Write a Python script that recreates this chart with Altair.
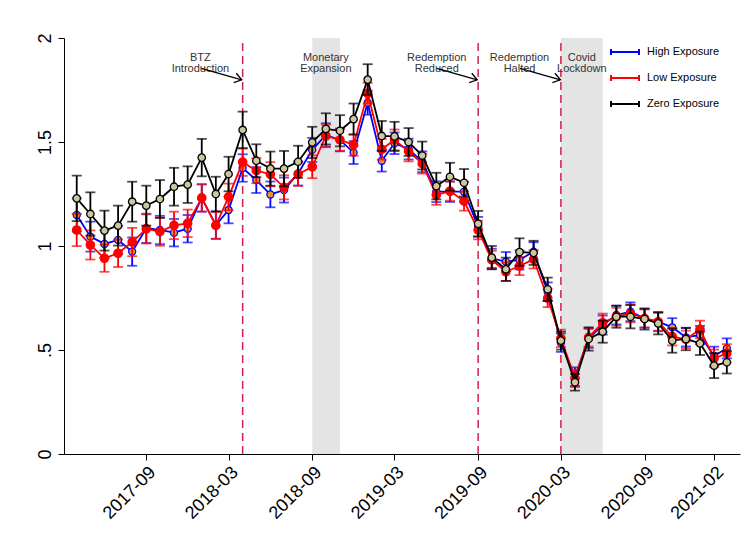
import altair as alt
import pandas as pd

# Monthly estimates, 2017-04 .. 2021-03
months = pd.date_range("2017-04-01", "2021-03-01", freq="MS").strftime("%Y-%m-%d").tolist()

high = [1.149, 1.045, 1.010, 1.029, 0.973, 1.085, 1.077, 1.064, 1.083, 1.231, 1.100, 1.173,
        1.375, 1.317, 1.248, 1.269, 1.349, 1.462, 1.534, 1.510, 1.449, 1.689, 1.410, 1.494,
        1.466, 1.405, 1.261, 1.261, 1.261, 1.093, 0.941, 0.925, 0.933, 0.973, 0.780, 0.535,
        0.372, 0.556, 0.620, 0.668, 0.684, 0.652, 0.636, 0.609, 0.561, 0.572, 0.471, 0.508]
low = [1.077, 1.005, 0.941, 0.965, 1.019, 1.082, 1.069, 1.099, 1.109, 1.231, 1.099, 1.236,
       1.403, 1.362, 1.345, 1.282, 1.345, 1.381, 1.529, 1.510, 1.486, 1.734, 1.465, 1.510,
       1.455, 1.396, 1.245, 1.264, 1.216, 1.077, 0.933, 0.876, 0.904, 0.936, 0.749, 0.556,
       0.364, 0.561, 0.631, 0.660, 0.676, 0.652, 0.636, 0.564, 0.551, 0.599, 0.460, 0.484]
zero = [1.229, 1.154, 1.074, 1.098, 1.213, 1.194, 1.226, 1.285, 1.295, 1.425, 1.250, 1.346,
        1.558, 1.410, 1.372, 1.372, 1.405, 1.498, 1.563, 1.554, 1.610, 1.800, 1.529, 1.527,
        1.500, 1.435, 1.288, 1.333, 1.304, 1.107, 0.944, 0.888, 0.971, 0.967, 0.792, 0.545,
        0.345, 0.553, 0.588, 0.660, 0.660, 0.649, 0.628, 0.545, 0.553, 0.532, 0.425, 0.441]

# Half-widths of the confidence intervals
high_ci = [.080, .072, .066, .067, .068, .070, .068, .066, .066, .066, .065, .064,
           .066, .062, .062, .060, .058, .058, .056, .055, .055, .058, .052, .052,
           .050, .050, .050, .049, .048, .047, .046, .046, .046, .045, .045, .044,
           .044, .046, .046, .045, .045, .045, .046, .044, .044, .044, .045, .048]
low_ci = [.078, .070, .065, .066, .068, .070, .068, .066, .066, .065, .065, .064,
          .066, .060, .058, .058, .056, .055, .054, .052, .052, .050, .050, .050,
          .048, .048, .047, .046, .046, .045, .044, .044, .044, .044, .043, .042,
          .042, .044, .044, .043, .043, .043, .043, .042, .042, .042, .042, .044]
zero_ci = [.109, .104, .096, .096, .096, .096, .091, .091, .088, .090, .083, .083,
           .088, .079, .082, .085, .077, .075, .075, .075, .075, .074, .072, .070,
           .067, .067, .064, .067, .066, .062, .056, .056, .066, .058, .056, .043,
           .040, .056, .053, .053, .056, .051, .053, .058, .054, .056, .060, .054]

series_names = ["High Exposure", "Low Exposure", "Zero Exposure"]
line_colors = ["#0000ff", "#ff0000", "#000000"]
marker_fills = ["#e8952f", "#ff0000", "#cdc79e"]
marker_sizes = [50, 70, 55]

# Policy events (dashed lines) and shaded periods
event_dates = ["2018-04-01", "2019-09-01", "2020-03-01"]
shade_start = ["2018-09-01", "2020-03-01"]
shade_end = ["2018-11-01", "2020-06-01"]

# Annotation text and arrows
note_text = ["BTZ\nIntroduction", "Monetary\nExpansion", "Redemption\nReduced",
             "Redemption\nHalted", "Covid\nLockdown"]
note_dates = ["2017-12-29", "2018-10-01", "2019-06-02", "2019-12-01", "2020-04-16"]
note_y = 1.902
arrow_from = ["2017-12-31", "2019-06-02", "2019-12-02"]
arrow_to = ["2018-03-30", "2019-08-30", "2020-02-29"]
arrow_y_from = 1.854
arrow_y_to = 1.799

x_ticks = ["2017-09-01", "2018-03-01", "2018-09-01", "2019-03-01",
           "2019-09-01", "2020-03-01", "2020-09-01", "2021-02-01"]
x_range = ["2017-03-04", "2021-03-30"]
y_ticks = [0, 0.5, 1, 1.5, 2]

FONT = "Liberation Sans"


def ms(d):
    return int(pd.Timestamp(d).value // 10**6)


rows = []
for name, vals, cis in zip(series_names, [high, low, zero], [high_ci, low_ci, zero_ci]):
    for m, v, c in zip(months, vals, cis):
        rows.append({"month": m, "series": name, "value": v,
                     "lo": round(v - c, 4), "hi": round(v + c, 4)})
df = pd.DataFrame(rows)

shade_df = pd.DataFrame({"start": shade_start, "end": shade_end, "ylo": 0, "yhi": 2})
event_df = pd.DataFrame({"date": event_dates, "ylo": 0, "yhi": 2})
note_df = pd.DataFrame({"date": note_dates, "label": note_text, "y": note_y})
arrow_df = pd.DataFrame({"x1": arrow_from, "x2": arrow_to,
                         "y1": arrow_y_from, "y2": arrow_y_to})

x_scale = alt.Scale(type="utc", domain=[ms(d) for d in x_range])
y_scale = alt.Scale(domain=[0, 2], nice=False, zero=False)

x_axis = alt.Axis(values=[ms(d) for d in x_ticks], format="%Y-%m", labelAngle=315,
                  labelFontSize=18, labelFont=FONT, labelColor="black", labelPadding=3,
                  tickSize=6, tickColor="black", domainColor="black", grid=False,
                  title=None)
y_axis = alt.Axis(values=y_ticks, labelExpr="replace(toString(datum.value), '0.', '.')",
                  labelAngle=270, labelAlign="center", labelBaseline="alphabetic",
                  labelFontSize=18, labelFont=FONT, labelColor="black", labelPadding=8,
                  tickSize=6, tickColor="black", domainColor="black", grid=False,
                  title=None)


def X(field):
    return alt.X(f"{field}:T", scale=x_scale, axis=x_axis)


def Y(field):
    return alt.Y(f"{field}:Q", scale=y_scale, axis=y_axis)


color_scale = alt.Scale(domain=series_names, range=line_colors)
legend = alt.Legend(title=None, orient="none", legendX=550, legendY=3, padding=0,
                    symbolType="M-1.4,-0.3L-1.4,0.3M-1.4,0L1.4,0M1.4,-0.3L1.4,0.3",
                    symbolSize=400, symbolStrokeWidth=2, symbolFillColor="transparent",
                    labelFontSize=11, labelFont=FONT, labelColor="black",
                    labelOffset=11, rowPadding=8)

shades = alt.Chart(shade_df).mark_rect(color="#e4e4e4").encode(
    x=X("start"), x2="end", y=Y("ylo"), y2="yhi")

events = alt.Chart(event_df).mark_rule(
    color="#d0204a", strokeDash=[8, 5], strokeWidth=1.5).encode(
    x=X("date"), y=Y("ylo"), y2="yhi")

layers = [shades, events]
base = alt.Chart(df)
for i, (name, lc, fc, sz) in enumerate(zip(series_names, line_colors, marker_fills, marker_sizes)):
    s = base.transform_filter(alt.datum.series == name)
    bars = s.mark_rule(strokeWidth=1.8).encode(
        x=X("month"), y=Y("lo"), y2="hi",
        color=alt.Color("series:N", scale=color_scale, legend=legend if i == 0 else None))
    cap_lo = s.mark_tick(orient="horizontal", size=10, thickness=1.8, color=lc).encode(
        x=X("month"), y=Y("lo"))
    cap_hi = s.mark_tick(orient="horizontal", size=10, thickness=1.8, color=lc).encode(
        x=X("month"), y=Y("hi"))
    line = s.mark_line(color=lc, strokeWidth=1.8).encode(x=X("month"), y=Y("value"))
    pts = s.mark_circle(fill=fc, stroke=lc, strokeWidth=1.3, opacity=1, size=sz).encode(
        x=X("month"), y=Y("value"))
    layers += [bars, cap_lo, cap_hi, line, pts]

notes = alt.Chart(note_df).mark_text(
    font=FONT, fontSize=11, color="#333333", align="center", baseline="middle",
    lineBreak="\n", lineHeight=11).encode(
    x=X("date"), y=Y("y"), text="label:N")

arrows = alt.Chart(arrow_df).mark_rule(color="black", strokeWidth=1.3).encode(
    x=X("x1"), y=Y("y1"), x2="x2", y2="y2")
heads = alt.Chart(arrow_df).mark_point(
    shape="M-1,-0.7L0,0L-1,0.7", size=196, angle=15, filled=False,
    color="black", strokeWidth=1.3, opacity=1).encode(
    x=X("x2"), y=Y("y2"))

layers += [notes, arrows, heads]

chart = alt.layer(*layers).properties(
    width=676, height=416,
    autosize=alt.AutoSizeParams(type="none"),
    padding={"left": 64, "top": 38, "right": 4, "bottom": 94},
    background="white",
).configure_view(stroke=None)

chart.save("out.html", embed_options={"renderer": "svg", "actions": False})
